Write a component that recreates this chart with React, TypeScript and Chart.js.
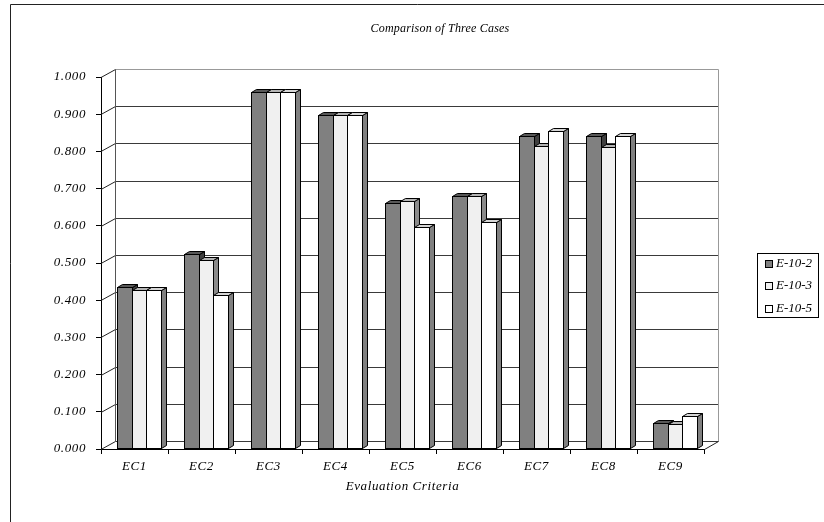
import React, { useEffect, useRef } from 'react';
import { Chart, registerables } from 'chart.js';

Chart.register(...registerables);

// ---------- data ----------
const categories = ['EC1', 'EC2', 'EC3', 'EC4', 'EC5', 'EC6', 'EC7', 'EC8', 'EC9'];
const seriesNames = ['E-10-2', 'E-10-3', 'E-10-5'];
const e102 = [0.435, 0.523, 0.959, 0.899, 0.661, 0.681, 0.842, 0.841, 0.069];
const e103 = [0.428, 0.507, 0.959, 0.899, 0.668, 0.681, 0.814, 0.811, 0.068];
const e105 = [0.427, 0.415, 0.959, 0.899, 0.596, 0.610, 0.856, 0.841, 0.089];
const yTickLabels = ['0.000', '0.100', '0.200', '0.300', '0.400', '0.500', '0.600', '0.700', '0.800', '0.900', '1.000'];
const chartTitle = 'Comparison of Three Cases';
const xAxisTitle = 'Evaluation Criteria';

// ---------- styles ----------
const FAMILY = "'Liberation Serif', 'Times New Roman', serif";
const frontColors = ['#808080', '#f0f0f0', '#ffffff'];
const topColors = ['#585858', '#b4b4b4', '#d6d6d6'];
const sideColors = ['#404040', '#8a8a8a', '#808080'];

const WALL_DX = 14;
const WALL_DY = -8;
const BAR_SHIFT = 4.5;
const BAR_DX = 5;
const BAR_DY = -3;

function setSpacing(ctx: any, v: string) {
  try { ctx.letterSpacing = v; } catch (e) { /* ignore */ }
}

const depthPlugin = {
  id: 'depth3d',
  beforeDraw(chart: any) {
    setSpacing(chart.ctx, '0.6px');
  },
  beforeDatasetsDraw(chart: any) {
    const ctx: CanvasRenderingContext2D = chart.ctx;
    const { left, right, top, bottom } = chart.chartArea;
    const yScale = chart.scales.y;
    ctx.save();
    ctx.lineWidth = 1;

    const bl = Math.round(left + WALL_DX) + 0.5;
    const br = Math.round(right + WALL_DX) + 0.5;

    // back wall gridlines + left wall diagonals
    yScale.ticks.forEach((t: any, i: number) => {
      const py = yScale.getPixelForValue(t.value);
      const by = Math.round(py + WALL_DY) + 0.5;
      ctx.strokeStyle = i === yScale.ticks.length - 1 ? '#999999' : '#3a3a3a';
      ctx.beginPath();
      ctx.moveTo(bl, by);
      ctx.lineTo(br, by);
      ctx.stroke();
      ctx.strokeStyle = '#222222';
      ctx.beginPath();
      ctx.moveTo(left, Math.round(py) + 0.5);
      ctx.lineTo(bl, by);
      ctx.stroke();
    });

    // wall edges
    const bTop = Math.round(top + WALL_DY) + 0.5;
    const bBot = Math.round(bottom + WALL_DY) + 0.5;
    ctx.strokeStyle = '#555555';
    ctx.beginPath();
    ctx.moveTo(bl, bTop);
    ctx.lineTo(bl, bBot);
    ctx.stroke();
    ctx.strokeStyle = '#999999';
    ctx.beginPath();
    ctx.moveTo(br, bTop);
    ctx.lineTo(br, bBot);
    ctx.stroke();
    ctx.strokeStyle = '#222222';
    ctx.beginPath();
    ctx.moveTo(right + 0.5, Math.round(bottom) + 0.5);
    ctx.lineTo(br, bBot);
    ctx.stroke();

    // bars (3D)
    const n = chart.data.labels.length;
    const metas = chart.data.datasets.map((_: any, i: number) => chart.getDatasetMeta(i));
    ctx.strokeStyle = '#000000';
    ctx.lineJoin = 'miter';
    for (let i = 0; i < n; i++) {
      metas.forEach((meta: any, d: number) => {
        const el = meta.data[i];
        const { x, y, base, width } = el.getProps(['x', 'y', 'base', 'width'], true);
        const L = Math.round(x - width / 2 + BAR_SHIFT) + 0.5;
        const R = Math.round(x + width / 2 + BAR_SHIFT) + 0.5;
        const T = Math.round(y) + 0.5;
        const B = Math.round(base) - 0.5;
        // side
        ctx.fillStyle = sideColors[d];
        ctx.beginPath();
        ctx.moveTo(R, T);
        ctx.lineTo(R + BAR_DX, T + BAR_DY);
        ctx.lineTo(R + BAR_DX, B + BAR_DY);
        ctx.lineTo(R, B);
        ctx.closePath();
        ctx.fill();
        ctx.stroke();
        // top
        ctx.fillStyle = topColors[d];
        ctx.beginPath();
        ctx.moveTo(L, T);
        ctx.lineTo(L + BAR_DX, T + BAR_DY);
        ctx.lineTo(R + BAR_DX, T + BAR_DY);
        ctx.lineTo(R, T);
        ctx.closePath();
        ctx.fill();
        ctx.stroke();
        // front
        ctx.fillStyle = chart.data.datasets[d].backgroundColor;
        ctx.fillRect(L, T, R - L, B - T);
        ctx.strokeRect(L, T, R - L, B - T);
      });
    }
    ctx.restore();
    return false;
  },
  afterDraw(chart: any) {
    const ctx: CanvasRenderingContext2D = chart.ctx;
    ctx.save();
    // outer frame
    ctx.strokeStyle = '#222222';
    ctx.lineWidth = 1;
    ctx.beginPath();
    ctx.moveTo(10.5, 522);
    ctx.lineTo(10.5, 4.5);
    ctx.lineTo(824, 4.5);
    ctx.stroke();

    // title
    setSpacing(ctx, '0.2px');
    ctx.fillStyle = '#000000';
    ctx.font = `italic 12px ${FAMILY}`;
    ctx.textAlign = 'center';
    ctx.textBaseline = 'middle';
    ctx.fillText(chartTitle, 440, 29);

    // legend
    setSpacing(ctx, '0px');
    ctx.strokeStyle = '#000000';
    ctx.strokeRect(757.5, 253.5, 61, 64);
    ctx.font = `italic 13px ${FAMILY}`;
    ctx.textAlign = 'left';
    const rows = [263.5, 286, 308.5];
    chart.data.datasets.forEach((ds: any, i: number) => {
      const ry = rows[i];
      ctx.fillStyle = ds.backgroundColor;
      ctx.fillRect(765.5, Math.round(ry - 4) + 0.5, 7, 7);
      ctx.strokeRect(765.5, Math.round(ry - 4) + 0.5, 7, 7);
      ctx.fillStyle = '#000000';
      ctx.fillText(ds.label, 776, ry);
    });
    ctx.restore();
    setSpacing(ctx, '0px');
  },
};

export default function App() {
  const ref = useRef<HTMLCanvasElement>(null);
  useEffect(() => {
    const canvas = ref.current!;
    const font = { family: FAMILY, style: 'italic' as const, size: 13 };
    const chart = new Chart(canvas, {
      type: 'bar',
      data: {
        labels: categories,
        datasets: [e102, e103, e105].map((vals, i) => ({
          label: seriesNames[i],
          data: vals,
          backgroundColor: frontColors[i],
          borderColor: '#000000',
          borderWidth: 1,
        })),
      },
      options: {
        animation: false,
        responsive: false,
        devicePixelRatio: 1,
        layout: { padding: { left: 0, top: 77, right: 120, bottom: 0 } },
        datasets: { bar: { categoryPercentage: 0.67, barPercentage: 1 } },
        plugins: {
          legend: { display: false },
          title: { display: false },
          tooltip: { enabled: false },
        },
        scales: {
          x: {
            grid: { display: true, drawOnChartArea: false, drawTicks: true, tickLength: 5, color: '#000000', offset: true },
            border: { display: true, color: '#000000', width: 1 },
            ticks: { font, color: '#000000', padding: 5, maxRotation: 0, autoSkip: false },
            title: { display: true, text: xAxisTitle, font, color: '#000000', padding: { top: 0, bottom: 27.4 } },
            afterFit: (s: any) => { s.height = 73; },
          },
          y: {
            min: 0,
            max: 1,
            ticks: {
              stepSize: 0.1,
              callback: (_v: any, i: number) => yTickLabels[i],
              font,
              color: '#000000',
              padding: 10,
            },
            grid: { display: true, drawOnChartArea: false, drawTicks: true, tickLength: 5, color: '#000000' },
            border: { display: true, color: '#000000', width: 1 },
            afterFit: (s: any) => { s.width = 101; },
          },
        },
      },
      plugins: [depthPlugin],
    });
    return () => chart.destroy();
  }, []);
  return (
    <div style={{ position: 'fixed', left: 0, top: 0, width: 824, height: 522, background: '#ffffff' }}>
      <canvas ref={ref} width={824} height={522} style={{ display: 'block' }} />
    </div>
  );
}
